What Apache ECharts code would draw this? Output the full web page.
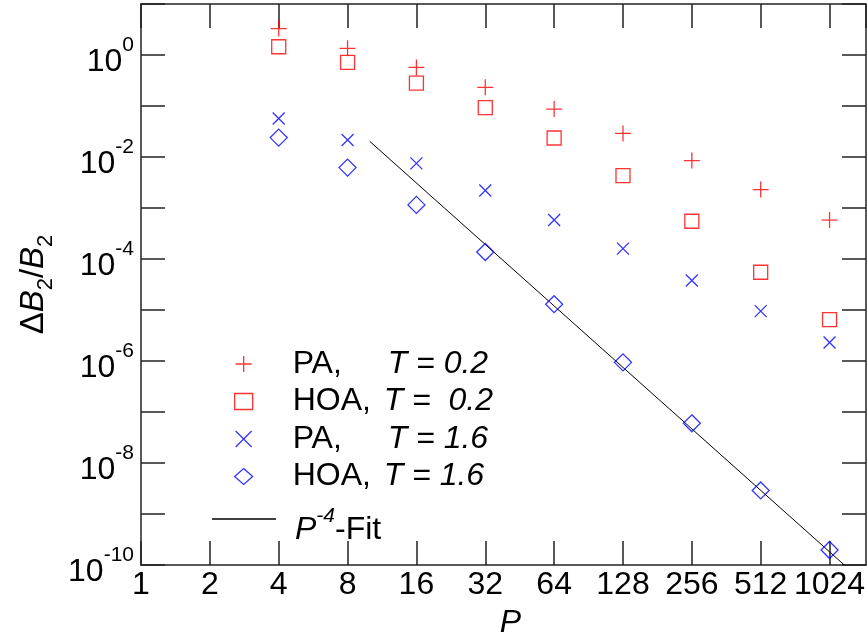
<!DOCTYPE html>
<html><head><meta charset="utf-8">
<script src="https://cdn.jsdelivr.net/npm/echarts@6/dist/echarts.min.js"></script>
<style>html,body{margin:0;padding:0;background:#fff}#c{width:867px;height:635px}</style>
</head><body><div id="c"></div>
<script>
// ---- data ----
const P = [4, 8, 16, 32, 64, 128, 256, 512, 1024];
const paT02  = [3.3, 1.35, 0.57, 0.232, 0.087, 0.029, 0.0085, 0.0023, 5.8e-4];
const hoaT02 = [1.45, 0.72, 0.28, 0.093, 0.0236, 0.0043, 5.5e-4, 5.5e-5, 6.5e-6];
const paT16  = [0.057, 0.0216, 0.0075, 0.0022, 5.8e-4, 1.6e-4, 3.8e-5, 9.5e-6, 2.3e-6];
const hoaT16 = [0.024, 0.0062, 0.00115, 1.37e-4, 1.3e-5, 9.4e-7, 6.0e-8, 2.9e-9, 1.97e-10];
const fitP = [10, 1188];
const fitY = [0.0203, 1e-10];
const xTickLabels = ['1', '2', '4', '8', '16', '32', '64', '128', '256', '512', '1024'];
const yTickExponents = ['0', '-2', '-4', '-6', '-8', '-10'];
const seriesNames = ['PA, T = 0.2', 'HOA, T = 0.2', 'PA, T = 1.6', 'HOA, T = 1.6'];
const legendParts = [['PA,', 'T = 0.2'], ['HOA,', 'T =  0.2'], ['PA,', 'T = 1.6'], ['HOA,', 'T = 1.6']];
const fitName = 'P^-4-Fit';

const FONT = "'Liberation Sans', Arial, Helvetica, sans-serif";
const AX = '#222';
const pairs = (ys) => P.map((p, i) => [p, ys[i]]);

const plusPath = 'path://M0,5L10,5M5,0L5,10';
const crossPath = 'path://M0,0L10,10M10,0L0,10';

function xAxisCfg(pos, show) {
  return {
    type: 'log', logBase: 2, min: 1, max: 1478, interval: 1, position: pos,
    axisLine: { show: true, lineStyle: { color: AX, width: 1.5 } },
    axisTick: { show: true, inside: true, length: 24, lineStyle: { color: AX, width: 1.5 } },
    splitLine: { show: false }, minorTick: { show: false },
    axisLabel: show ? {
      show: true, margin: 4, color: '#000', fontFamily: FONT, fontSize: 32, lineHeight: 32,
      showMaxLabel: false,
      formatter: (v) => { const i = Math.round(Math.log2(v)); return xTickLabels[i] !== undefined && Math.abs(Math.log2(v) - i) < 1e-6 ? xTickLabels[i] : ''; }
    } : { show: false },
    name: show ? 'P' : '', nameLocation: 'middle', nameGap: 42,
    nameTextStyle: { fontFamily: FONT, fontSize: 32, fontStyle: 'italic', color: '#000', padding: [0, 0, 0, 14] }
  };
}
function yAxisCfg(pos, show) {
  return {
    type: 'log', logBase: 10, min: 1e-10, max: 10, interval: 1, position: pos,
    axisLine: { show: true, lineStyle: { color: AX, width: 1.5 } },
    axisTick: { show: true, inside: true, length: 24, lineStyle: { color: AX, width: 1.5 } },
    splitLine: { show: false }, minorTick: { show: false },
    axisLabel: show ? {
      show: true, margin: 7, color: '#000', fontFamily: FONT, padding: [3, 0, 0, 0],
      formatter: (v) => {
        const e = String(Math.round(Math.log10(v)));
        return yTickExponents.indexOf(e) >= 0 ? '{b|10}{e|' + e + '}' : '';
      },
      rich: {
        b: { fontFamily: FONT, fontSize: 32, lineHeight: 44, verticalAlign: 'bottom', color: '#000' },
        e: { fontFamily: FONT, fontSize: 21, lineHeight: 20, verticalAlign: 'top', color: '#000' }
      }
    } : { show: false },
    name: show ? '{d|\u0394}{b|B}{s|2}{d|/}{b|B}{s|2}' : '', nameLocation: 'middle', nameGap: 84,
    nameTextStyle: {
      rich: {
        d: { fontFamily: FONT, fontSize: 33, lineHeight: 40, verticalAlign: 'top', color: '#000' },
        b: { fontFamily: FONT, fontSize: 33, fontStyle: 'italic', lineHeight: 40, verticalAlign: 'top', color: '#000' },
        s: { fontFamily: FONT, fontSize: 22, lineHeight: 40, verticalAlign: 'bottom', color: '#000' }
      }
    }
  };
}

const legendRich = {
  sp: { width: 35 },
  pa: { fontFamily: FONT, fontSize: 32, lineHeight: 30, width: 95, color: '#000' },
  ho: { fontFamily: FONT, fontSize: 32, lineHeight: 30, width: 91, color: '#000' },
  t: { fontFamily: FONT, fontSize: 32, lineHeight: 30, fontStyle: 'italic', color: '#000' }
};

const chart = echarts.init(document.getElementById('c'), null, { renderer: 'canvas' });
chart.setOption({
  animation: false,
  backgroundColor: '#fff',
  grid: { left: 141, right: 1, top: 4, bottom: 70, containLabel: false, outerBoundsMode: 'none' },
  xAxis: [xAxisCfg('bottom', true), xAxisCfg('top', false)],
  yAxis: [yAxisCfg('left', true), yAxisCfg('right', false)],
  legend: [
    {
      data: seriesNames, orient: 'vertical', left: 234, top: 348, padding: 0,
      itemWidth: 18, itemHeight: 16, itemGap: 5.5, selectedMode: false,
      itemStyle: { borderWidth: 1.3 },
      formatter: (name) => {
        const i = seriesNames.indexOf(name);
        const [a, b] = legendParts[i];
        return '{sp|}{' + (a === 'PA,' ? 'pa' : 'ho') + '|' + a + '}{t|' + b + '}';
      },
      textStyle: { rich: legendRich }
    },
    {
      data: [{ name: fitName, icon: 'rect' }], orient: 'vertical', left: 212, top: 506, padding: 0,
      itemWidth: 64, itemHeight: 1.3, selectedMode: false, symbolKeepAspect: false,
      itemStyle: { color: '#000', borderWidth: 0 },
      formatter: () => '{sp|}{p|P}{e|-4}{n|-Fit}',
      textStyle: {
        padding: [14, 0, 0, 0],
        rich: {
          sp: { width: 14 },
          p: { fontFamily: FONT, fontSize: 32, fontStyle: 'italic', lineHeight: 40, verticalAlign: 'bottom', color: '#000' },
          e: { fontFamily: FONT, fontSize: 21, fontStyle: 'italic', lineHeight: 18, verticalAlign: 'top', color: '#000' },
          n: { fontFamily: FONT, fontSize: 32, lineHeight: 40, verticalAlign: 'bottom', color: '#000' }
        }
      }
    }
  ],
  series: [
    {
      name: seriesNames[0], type: 'scatter', data: pairs(paT02), symbol: plusPath, symbolSize: 16,
      itemStyle: { color: 'transparent', borderColor: '#ff0000', borderWidth: 1.3 }
    },
    {
      name: seriesNames[1], type: 'scatter', data: pairs(hoaT02), symbol: 'rect', symbolSize: 14,
      itemStyle: { color: 'transparent', borderColor: '#ff0000', borderWidth: 1.3 }
    },
    {
      name: seriesNames[2], type: 'scatter', data: pairs(paT16), symbol: crossPath, symbolSize: 12,
      itemStyle: { color: 'transparent', borderColor: '#0000ff', borderWidth: 1.3 }
    },
    {
      name: seriesNames[3], type: 'scatter', data: pairs(hoaT16), symbol: 'diamond', symbolSize: 17,
      itemStyle: { color: 'transparent', borderColor: '#0000ff', borderWidth: 1.3 }
    },
    {
      name: fitName, type: 'line', data: fitP.map((p, i) => [p, fitY[i]]), symbol: 'none',
      lineStyle: { color: '#000', width: 1 }, itemStyle: { color: '#000' }, clip: true, z: 1
    }
  ]
});
</script>
</body></html>
